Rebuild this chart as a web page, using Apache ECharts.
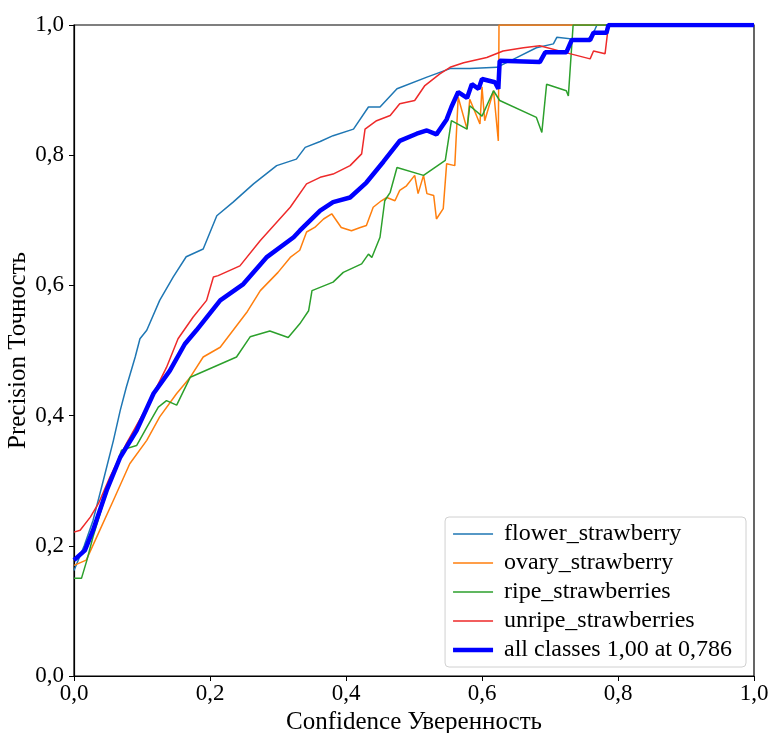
<!DOCTYPE html>
<html>
<head>
<meta charset="utf-8">
<script src="https://cdn.jsdelivr.net/npm/echarts@6/dist/echarts.min.js"></script>
<style>
  html, body { margin: 0; padding: 0; background: #fff; }
  #chart { width: 773px; height: 733px; }
</style>
</head>
<body>
<div id="chart"></div>
<script>
// PR curve points, [confidence, precision]
const flowerStrawberry = [
  [0, 0.162], [0.015, 0.2], [0.028, 0.239], [0.043, 0.3], [0.058, 0.362], [0.068, 0.408],
  [0.077, 0.444], [0.09, 0.49], [0.097, 0.518], [0.107, 0.531], [0.126, 0.577], [0.146, 0.613],
  [0.165, 0.644], [0.19, 0.656], [0.21, 0.707], [0.234, 0.728], [0.264, 0.756], [0.298, 0.784],
  [0.327, 0.794], [0.34, 0.812], [0.362, 0.821], [0.381, 0.83], [0.411, 0.84], [0.433, 0.874],
  [0.45, 0.874], [0.475, 0.902], [0.519, 0.92], [0.553, 0.933], [0.582, 0.933], [0.622, 0.935],
  [0.651, 0.95], [0.68, 0.965], [0.705, 0.971], [0.71, 0.981], [0.754, 0.976], [0.764, 0.988],
  [0.769, 1.0], [1.0, 1.0]
];
const ovaryStrawberry = [
  [0, 0.17], [0.018, 0.178], [0.038, 0.224], [0.058, 0.27], [0.082, 0.326], [0.107, 0.362],
  [0.126, 0.398], [0.151, 0.434], [0.171, 0.459], [0.19, 0.49], [0.215, 0.505], [0.234, 0.531],
  [0.255, 0.56], [0.274, 0.592], [0.3, 0.62], [0.318, 0.643], [0.332, 0.654], [0.342, 0.682],
  [0.354, 0.689], [0.367, 0.702], [0.379, 0.71], [0.393, 0.689], [0.408, 0.684], [0.421, 0.689],
  [0.43, 0.692], [0.44, 0.72], [0.452, 0.73], [0.46, 0.735], [0.472, 0.73], [0.479, 0.746],
  [0.489, 0.753], [0.501, 0.769], [0.506, 0.741], [0.514, 0.769], [0.519, 0.741], [0.529, 0.738],
  [0.533, 0.702], [0.543, 0.718], [0.548, 0.787], [0.56, 0.784], [0.565, 0.889], [0.578, 0.84],
  [0.582, 0.886], [0.597, 0.848], [0.6, 0.905], [0.604, 0.853], [0.617, 0.899], [0.624, 0.822],
  [0.625, 1.0], [1.0, 1.0]
];
const ripeStrawberries = [
  [0, 0.15], [0.011, 0.15], [0.019, 0.178], [0.028, 0.214], [0.043, 0.265], [0.058, 0.311],
  [0.07, 0.347], [0.092, 0.354], [0.107, 0.382], [0.124, 0.413], [0.136, 0.423], [0.151, 0.416],
  [0.171, 0.459], [0.239, 0.49], [0.259, 0.521], [0.288, 0.53], [0.315, 0.52], [0.332, 0.541],
  [0.345, 0.561], [0.35, 0.592], [0.381, 0.605], [0.396, 0.62], [0.423, 0.633], [0.433, 0.648],
  [0.438, 0.643], [0.45, 0.674], [0.457, 0.73], [0.465, 0.743], [0.475, 0.781], [0.514, 0.769],
  [0.546, 0.792], [0.555, 0.853], [0.578, 0.84], [0.582, 0.876], [0.6, 0.86], [0.617, 0.899],
  [0.626, 0.884], [0.68, 0.858], [0.688, 0.835], [0.695, 0.909], [0.724, 0.899], [0.727, 0.891],
  [0.734, 1.0], [1.0, 1.0]
];
const unripeStrawberries = [
  [0, 0.221], [0.009, 0.224], [0.024, 0.244], [0.036, 0.265], [0.053, 0.306], [0.077, 0.357],
  [0.107, 0.413], [0.136, 0.474], [0.153, 0.518], [0.175, 0.551], [0.195, 0.577], [0.205, 0.613],
  [0.212, 0.615], [0.244, 0.63], [0.274, 0.669], [0.318, 0.72], [0.342, 0.756], [0.362, 0.766],
  [0.381, 0.771], [0.406, 0.784], [0.423, 0.802], [0.428, 0.84], [0.445, 0.853], [0.465, 0.861],
  [0.479, 0.879], [0.501, 0.884], [0.516, 0.907], [0.538, 0.925], [0.553, 0.935], [0.573, 0.942],
  [0.607, 0.95], [0.631, 0.96], [0.661, 0.965], [0.685, 0.968], [0.729, 0.956], [0.759, 0.948],
  [0.764, 0.96], [0.781, 0.956], [0.786, 1.0], [1.0, 1.0]
];
const allClasses = [
  [0, 0.178], [0.016, 0.193], [0.028, 0.224], [0.048, 0.285], [0.068, 0.336], [0.092, 0.377],
  [0.117, 0.434], [0.141, 0.469], [0.163, 0.51], [0.18, 0.531], [0.215, 0.577], [0.249, 0.602],
  [0.283, 0.643], [0.323, 0.674], [0.332, 0.684], [0.362, 0.715], [0.381, 0.728], [0.406, 0.735],
  [0.43, 0.758], [0.455, 0.79], [0.479, 0.822], [0.504, 0.833], [0.519, 0.838], [0.533, 0.832],
  [0.548, 0.855], [0.555, 0.874], [0.565, 0.897], [0.578, 0.888], [0.585, 0.909], [0.595, 0.902],
  [0.6, 0.917], [0.619, 0.912], [0.624, 0.902], [0.626, 0.945], [0.685, 0.943], [0.693, 0.958],
  [0.724, 0.958], [0.732, 0.977], [0.759, 0.977], [0.764, 0.988], [0.783, 0.988], [0.786, 1.0],
  [1.0, 1.0]
];

const seriesNames = [
  "flower_strawberry",
  "ovary_strawberry",
  "ripe_strawberries",
  "unripe_strawberries",
  "all classes 1,00 at 0,786"
];
const seriesColors = ["#1f77b4", "#ff7f0e", "#2ca02c", "#ee2a2a", "#0000ff"];
const seriesWidths = [1.5, 1.5, 1.5, 1.5, 4.5];
const seriesData = [flowerStrawberry, ovaryStrawberry, ripeStrawberries, unripeStrawberries, allClasses];

const FONT = "'Liberation Serif', 'DejaVu Serif', serif";
const fmt = (v) => v.toFixed(1).replace(".", ",");

// legend icons: a plain line segment; tiny corner dots pin the icon box
// so the line keeps its own thickness instead of being stretched
const thinIcon = "path://M0,6.25h40v1.5h-40z M0,0h0.01v0.01h-0.01z M45.99,13.99h0.01v0.01h-0.01z";
const thickIcon = "path://M0,4.75h40v4.5h-40z M0,0h0.01v0.01h-0.01z M45.99,13.99h0.01v0.01h-0.01z";

const chart = echarts.init(document.getElementById("chart"));

const option = {
  animation: false,
  textStyle: { fontFamily: FONT },
  grid: {
    left: 74,
    right: 19,
    top: 25,
    bottom: 57,
    outerBoundsMode: "none",
    containLabel: false,
    show: true,
    borderColor: "#000",
    borderWidth: 1.2,
    backgroundColor: "transparent"
  },
  legend: {
    orient: "vertical",
    right: 27,
    bottom: 66,
    data: seriesNames.map((name, i) => ({
      name,
      icon: i === 4 ? thickIcon : thinIcon
    })),
    itemWidth: 46,
    itemHeight: 14,
    itemGap: 5,
    padding: [5, 14, 5, 8],
    borderColor: "#d0d0d0",
    borderWidth: 1,
    borderRadius: 4,
    backgroundColor: "rgba(255,255,255,0.8)",
    textStyle: { fontFamily: FONT, fontSize: 24, color: "#000" }
  },
  xAxis: {
    type: "value",
    min: 0,
    max: 1,
    interval: 0.2,
    name: "Confidence Уверенность",
    nameLocation: "middle",
    nameGap: 30,
    nameTextStyle: { fontFamily: FONT, fontSize: 25, color: "#000" },
    axisLine: { show: true, lineStyle: { color: "#000", width: 1.2 } },
    axisTick: { show: true, length: 5, lineStyle: { color: "#000" } },
    axisLabel: { color: "#000", fontSize: 23, fontFamily: FONT, margin: 6, formatter: fmt },
    splitLine: { show: false }
  },
  yAxis: {
    type: "value",
    min: 0,
    max: 1,
    interval: 0.2,
    name: "Precision Точность",
    nameLocation: "middle",
    nameGap: 43,
    nameMoveOverlap: false,
    nameTextStyle: { fontFamily: FONT, fontSize: 25, color: "#000" },
    axisLine: { show: true, lineStyle: { color: "#000", width: 1.2 } },
    axisTick: { show: true, length: 5, lineStyle: { color: "#000" } },
    axisLabel: { color: "#000", fontSize: 23, fontFamily: FONT, margin: 10, formatter: fmt },
    splitLine: { show: false }
  },
  series: seriesNames.map((name, i) => ({
    name,
    type: "line",
    data: seriesData[i],
    symbol: "none",
    clip: true,
    z: i === 4 ? 5 : 2,
    lineStyle: { color: seriesColors[i], width: seriesWidths[i] },
    itemStyle: { color: seriesColors[i] }
  }))
};

chart.setOption(option);
</script>
</body>
</html>
